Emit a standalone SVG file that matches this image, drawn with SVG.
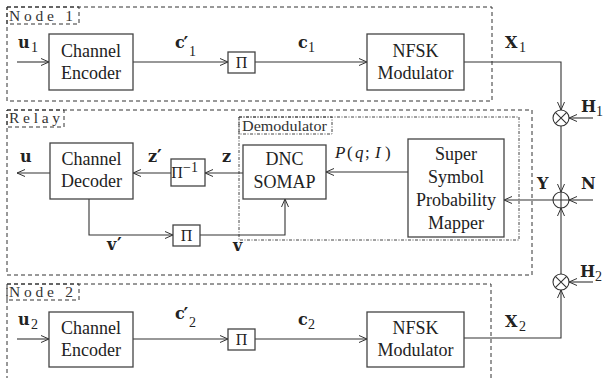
<svg xmlns="http://www.w3.org/2000/svg" width="609" height="378" viewBox="0 0 609 378">
<style>
.frame{fill:none;stroke:#333;stroke-width:1;stroke-dasharray:4 3}
.dd{fill:none;stroke:#444;stroke-width:1;stroke-dasharray:3 1.5 1 1.5}
.box{fill:#fff;stroke:#444;stroke-width:1.3}
.ln{fill:none;stroke:#333;stroke-width:1.1}
.bt{font-family:"Liberation Serif","Times New Roman",serif;font-size:18px;fill:#222;text-anchor:middle}
.pi{font-family:"Liberation Serif","Times New Roman",serif;font-size:16px;fill:#222;text-anchor:middle}
.fl{font-family:"Liberation Serif","Times New Roman",serif;font-size:15.5px;fill:#333}
.mv{font-family:"DejaVu Serif",serif;font-size:16px;font-weight:bold;fill:#222}
.pr{font-family:"DejaVu Serif",serif;font-size:18px;font-weight:bold}
.sbt{font-family:"Liberation Serif","Times New Roman",serif;font-size:14px;font-weight:normal}
.mi{font-family:"Liberation Serif","Times New Roman",serif;font-size:17px;font-style:italic;fill:#222}
.mr{font-family:"Liberation Serif","Times New Roman",serif;font-size:17px;font-style:normal}
</style>
<defs>
<marker id="ar" markerWidth="10" markerHeight="10" refX="8" refY="4" orient="auto" markerUnits="userSpaceOnUse">
<path d="M0,0.5 L8,4 L0,7.5" fill="none" stroke="#333" stroke-width="1"/>
</marker>
</defs>

<g id="frames">
<rect class="frame" x="7" y="7" width="485" height="94"/>
<rect class="frame" x="7" y="7" width="72" height="17"/>
<text class="fl" x="9" y="21" textLength="64" lengthAdjust="spacing">Node 1</text>
<rect class="frame" x="7" y="110" width="525" height="165"/>
<rect class="frame" x="7" y="110" width="57" height="17"/>
<text class="fl" x="9" y="123" textLength="51" lengthAdjust="spacing">Relay</text>
<rect class="frame" x="7" y="284" width="484" height="110"/>
<rect class="frame" x="7" y="284" width="72" height="16"/>
<text class="fl" x="9" y="297" textLength="64" lengthAdjust="spacing">Node 2</text>
<rect class="dd" x="239" y="117" width="280" height="123"/>
<rect class="dd" x="239" y="117" width="93" height="17"/>
<text class="fl" x="242" y="131" font-size="12.5" textLength="85" lengthAdjust="spacingAndGlyphs">Demodulator</text>
</g>

<g id="connectors">
<path class="ln" d="M17,62 H49" marker-end="url(#ar)"/>
<path class="ln" d="M133,62 H228" marker-end="url(#ar)"/>
<path class="ln" d="M255,62 H367" marker-end="url(#ar)"/>
<path class="ln" d="M464,62 H561 V110" marker-end="url(#ar)"/>
<path class="ln" d="M593,118 H569" marker-end="url(#ar)"/>
<path class="ln" d="M561,126 V192" marker-end="url(#ar)"/>
<path class="ln" d="M593,200 H569" marker-end="url(#ar)"/>
<path class="ln" d="M561,274 V208" marker-end="url(#ar)"/>
<path class="ln" d="M553,200 H504" marker-end="url(#ar)"/>
<path class="ln" d="M408,172 H326" marker-end="url(#ar)"/>
<path class="ln" d="M243,173 H205" marker-end="url(#ar)"/>
<path class="ln" d="M171,173 H133" marker-end="url(#ar)"/>
<path class="ln" d="M50,173 H17" marker-end="url(#ar)"/>
<path class="ln" d="M89,199 V235 H173" marker-end="url(#ar)"/>
<path class="ln" d="M200,235 H285 V199" marker-end="url(#ar)"/>
<path class="ln" d="M17,339 H49" marker-end="url(#ar)"/>
<path class="ln" d="M133,339 H228" marker-end="url(#ar)"/>
<path class="ln" d="M255,339 H367" marker-end="url(#ar)"/>
<path class="ln" d="M464,338 H561 V290" marker-end="url(#ar)"/>
<path class="ln" d="M593,282 H569" marker-end="url(#ar)"/>
</g>

<g id="labels">
<text class="mv" x="18" y="48">u<tspan class="sbt" x="31" y="52">1</tspan></text>
<text class="mv" x="175" y="48">c<tspan class="pr" x="183.5" y="50">′</tspan><tspan class="sbt" x="189" y="56">1</tspan></text>
<text class="mv" x="298" y="48">c<tspan class="sbt" x="308" y="52">1</tspan></text>
<text class="mv" x="505" y="48">X<tspan class="sbt" x="519" y="52">1</tspan></text>
<text class="mv" x="581" y="112">H<tspan class="sbt" x="596" y="116">1</tspan></text>
<text class="mv" x="537" y="189">Y</text>
<text class="mv" x="581" y="189">N</text>
<text class="mv" x="580" y="277">H<tspan class="sbt" x="595" y="281">2</tspan></text>
<text class="mv" x="20" y="162">u</text>
<text class="mv" x="148" y="162">z<tspan class="pr" x="157" y="163">′</tspan></text>
<text class="mv" x="222" y="162">z</text>
<text class="mv" x="107" y="250">v<tspan class="pr" x="117" y="251">′</tspan></text>
<text class="mv" x="233" y="251">v</text>
<text class="mi" x="335" y="158">P<tspan class="mr" x="347">(</tspan><tspan x="355">q</tspan><tspan class="mr" x="365">;</tspan><tspan x="375">I</tspan><tspan class="mr" x="385">)</tspan></text>
<text class="mv" x="18" y="325">u<tspan class="sbt" x="31" y="329">2</tspan></text>
<text class="mv" x="175" y="319">c<tspan class="pr" x="183.5" y="321">′</tspan><tspan class="sbt" x="189" y="327">2</tspan></text>
<text class="mv" x="298" y="325">c<tspan class="sbt" x="308" y="329">2</tspan></text>
<text class="mv" x="505" y="327">X<tspan class="sbt" x="519" y="331">2</tspan></text>
</g>

<g id="enc1">
<rect class="box" x="49" y="34" width="84" height="56"/>
<text class="bt" x="91" y="57">Channel</text>
<text class="bt" x="91" y="79">Encoder</text>
</g>
<g id="pi1">
<rect class="box" x="228" y="52" width="27" height="21"/>
<text class="pi" x="241.5" y="68">Π</text>
</g>
<g id="mod1">
<rect class="box" x="367" y="34" width="97" height="56"/>
<text class="bt" x="415.5" y="57">NFSK</text>
<text class="bt" x="415.5" y="79">Modulator</text>
</g>

<g id="mult1">
<circle cx="561" cy="118" r="8" fill="#fff" stroke="#333" stroke-width="1.1"/>
<path class="ln" d="M555.3,112.3 L566.7,123.7 M566.7,112.3 L555.3,123.7"/>
</g>
<g id="sum">
<circle cx="561" cy="200" r="8" fill="none" stroke="#333" stroke-width="1.1"/>
<path class="ln" d="M553,200 H569 M561,192 V208"/>
</g>
<g id="mult2">
<circle cx="561" cy="282" r="8" fill="#fff" stroke="#333" stroke-width="1.1"/>
<path class="ln" d="M555.3,276.3 L566.7,287.7 M566.7,276.3 L555.3,287.7"/>
</g>

<g id="dec">
<rect class="box" x="50" y="143" width="83" height="56"/>
<text class="bt" x="91.5" y="165">Channel</text>
<text class="bt" x="91.5" y="187">Decoder</text>
</g>
<g id="deint">
<rect class="box" x="171" y="159" width="34" height="27"/>
<text class="pi" x="177" y="178" text-anchor="start">Π<tspan class="sbt" font-size="9" x="190.5" y="172">−1</tspan></text>
</g>
<g id="pi_relay">
<rect class="box" x="173" y="225" width="27" height="21"/>
<text class="pi" x="186.5" y="241">Π</text>
</g>
<g id="somap">
<rect class="box" x="243" y="145" width="83" height="54"/>
<text class="bt" x="284.5" y="165">DNC</text>
<text class="bt" x="284.5" y="188">SOMAP</text>
</g>
<g id="mapper">
<rect class="box" x="408" y="139" width="96" height="98"/>
<text class="bt" x="456" y="160">Super</text>
<text class="bt" x="456" y="183">Symbol</text>
<text class="bt" x="456" y="206">Probability</text>
<text class="bt" x="456" y="229">Mapper</text>
</g>

<g id="enc2">
<rect class="box" x="49" y="312" width="84" height="55"/>
<text class="bt" x="91" y="334">Channel</text>
<text class="bt" x="91" y="356">Encoder</text>
</g>
<g id="pi2">
<rect class="box" x="228" y="329" width="27" height="21"/>
<text class="pi" x="241.5" y="345">Π</text>
</g>
<g id="mod2">
<rect class="box" x="367" y="312" width="97" height="55"/>
<text class="bt" x="415.5" y="334">NFSK</text>
<text class="bt" x="415.5" y="356">Modulator</text>
</g>
</svg>
